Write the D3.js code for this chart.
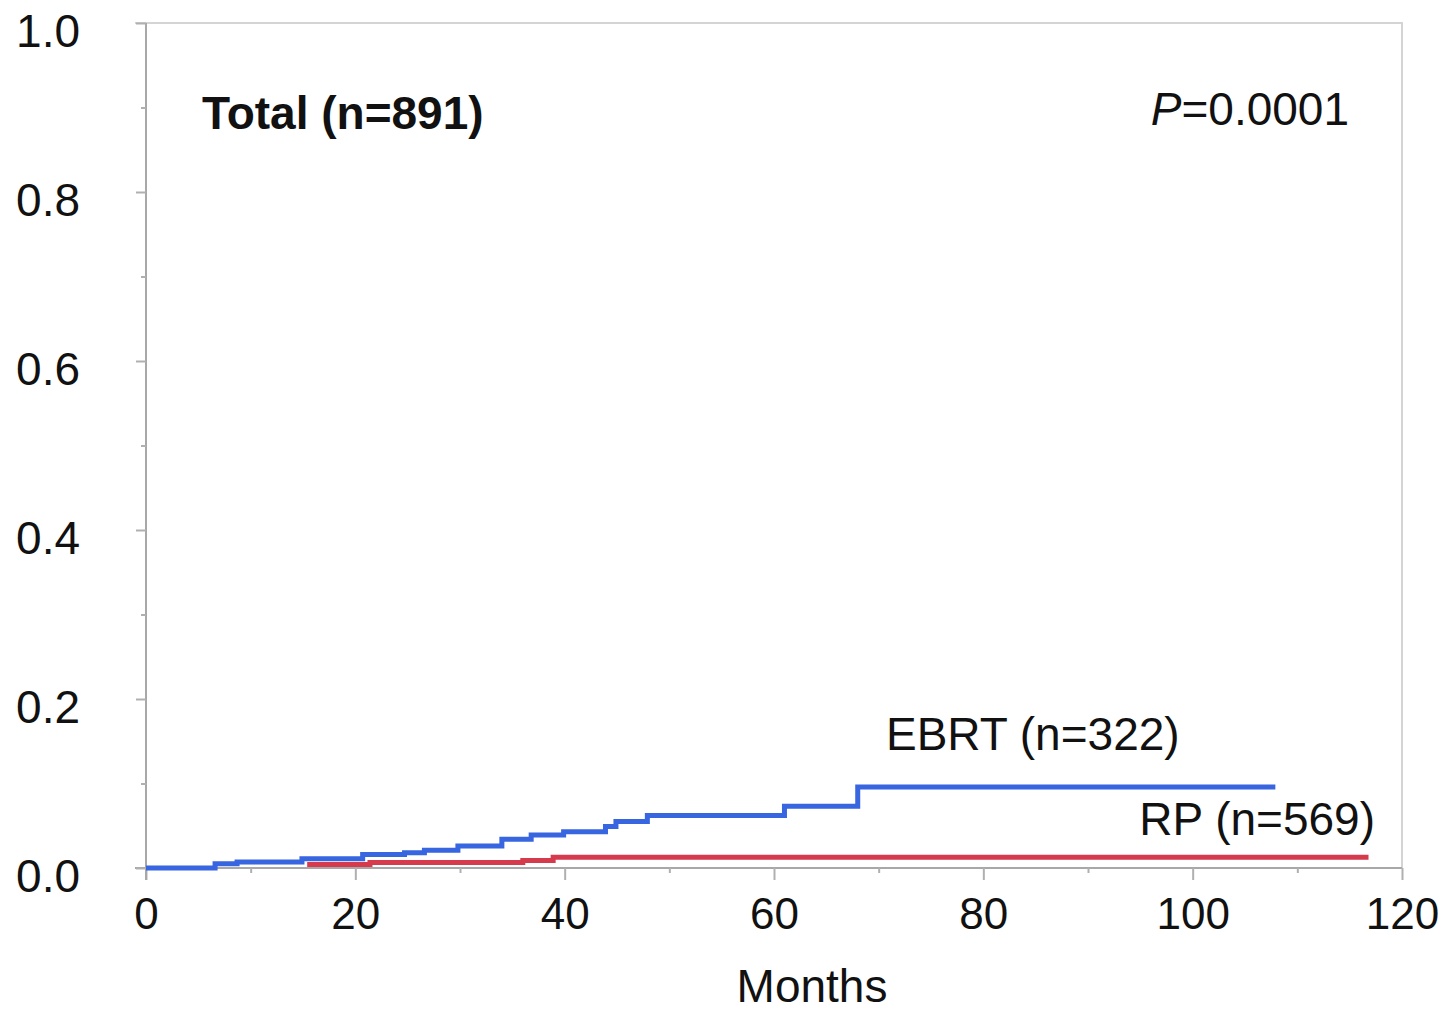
<!DOCTYPE html>
<meta charset="utf-8">
<script src="https://d3js.org/d3.v7.min.js"></script>
<style>
  body { margin: 0; background: #fff; }
  text { font-family: "Liberation Sans", Arial, sans-serif; fill: #111; }
</style>
<body>
  <div id="my_dataviz"></div>
</body>
<script>

  // step points (month, cumulative incidence)
  var ebrtMonths = [0, 6.6, 8.7, 14.9, 20.7, 24.7, 26.6, 29.8, 34.0, 36.8, 39.9, 43.9, 44.9, 47.9, 61.0, 68.0, 107.9];
  var ebrtValues = [0, 0.005, 0.007, 0.011, 0.016, 0.018, 0.021, 0.026, 0.034, 0.039, 0.043, 0.049, 0.055, 0.062, 0.073, 0.096, 0.096];

  // red curve only shows from its first event on
  var rpMonths = [15.4, 21.4, 36.0, 38.9, 116.8];
  var rpValues = [0.004, 0.0065, 0.009, 0.0127, 0.0127];

  var xTicks = [0, 20, 40, 60, 80, 100, 120];
  var xMinor = [10, 30, 50, 70, 90, 110];
  var yTicks = [0, 0.2, 0.4, 0.6, 0.8, 1.0];
  var yMinor = [0.1, 0.3, 0.5, 0.7, 0.9];

  var margin = {top: 23, right: 53, bottom: 145, left: 146},
    width = 1455 - margin.left - margin.right,
    height = 1013 - margin.top - margin.bottom;

  const svg = d3.select("#my_dataviz")
    .append("svg")
      .attr("width", 1455)
      .attr("height", 1013)
    .append("g")
      .attr("transform", `translate(${margin.left},${margin.top})`);

  const x = d3.scaleLinear().domain([0, 120]).range([0, width]);
  const y = d3.scaleLinear().domain([0, 1]).range([height, 0]);

  // plot frame (top and right)
  svg.append("path")
    .attr("d", `M${-11},0 H${width} V${height}`)
    .style("fill", "none")
    .style("stroke", "#d4d4d4")
    .style("stroke-width", 2);

  // x axis
  const xAxis = svg.append("g")
    .attr("transform", `translate(0,${height})`)
    .call(d3.axisBottom(x).tickValues(xTicks).tickSize(12).tickPadding(18).tickFormat(d3.format("d")));
  svg.append("g")
    .attr("transform", `translate(0,${height})`)
    .call(d3.axisBottom(x).tickValues(xMinor).tickSize(5).tickFormat(""))
    .select(".domain").remove();

  // y axis
  const yAxis = svg.append("g")
    .call(d3.axisLeft(y).tickValues(yTicks).tickSize(10).tickPadding(56).tickFormat(d3.format(".1f")));
  svg.append("g")
    .call(d3.axisLeft(y).tickValues(yMinor).tickSize(5).tickFormat(""))
    .select(".domain").remove();

  svg.selectAll(".domain").style("stroke", "#a8a8a8").style("stroke-width", 2);
  svg.selectAll(".tick line").style("stroke", "#b0b0b0").style("stroke-width", 2);

  xAxis.select(".domain").attr("d", `M-11,0H${width}`);
  yAxis.select(".domain").attr("d", `M0,0V${height + 12}`);

  xAxis.selectAll("text").style("font-size", "44px").style("font-family", '"Liberation Sans", Arial, sans-serif').style("fill", "#111");
  yAxis.selectAll("text").style("font-size", "46px").style("font-family", '"Liberation Sans", Arial, sans-serif').style("fill", "#111")
    .attr("dy", "0.5em");

  // step curves
  const line = d3.line()
    .x(function(d) { return x(d[0]); })
    .y(function(d) { return y(d[1]); })
    .curve(d3.curveStepAfter);

  svg.append("path")
    .datum(d3.zip(rpMonths, rpValues))
    .attr("d", line)
    .style("fill", "none")
    .style("stroke", "#d63a4d")
    .style("stroke-width", 5);

  svg.append("path")
    .datum(d3.zip(ebrtMonths, ebrtValues))
    .attr("d", line)
    .style("fill", "none")
    .style("stroke", "#3865e0")
    .style("stroke-width", 5);

  // annotations
  svg.append("text")
    .attr("x", 202 - margin.left).attr("y", 129 - margin.top)
    .style("font-size", "46px").style("font-weight", "bold")
    .text("Total (n=891)");

  const p = svg.append("text")
    .attr("x", 1349 - margin.left).attr("y", 125 - margin.top)
    .attr("text-anchor", "end")
    .style("font-size", "46px");
  p.append("tspan").style("font-style", "italic").text("P");
  p.append("tspan").text("=0.0001");

  svg.append("text")
    .attr("x", 886 - margin.left).attr("y", 750 - margin.top)
    .style("font-size", "46px")
    .text("EBRT (n=322)");

  svg.append("text")
    .attr("x", 1375 - margin.left).attr("y", 835 - margin.top)
    .attr("text-anchor", "end")
    .style("font-size", "46px")
    .text("RP (n=569)");

  svg.append("text")
    .attr("x", 812 - margin.left).attr("y", 1002 - margin.top)
    .attr("text-anchor", "middle")
    .style("font-size", "46px")
    .text("Months");

</script>
